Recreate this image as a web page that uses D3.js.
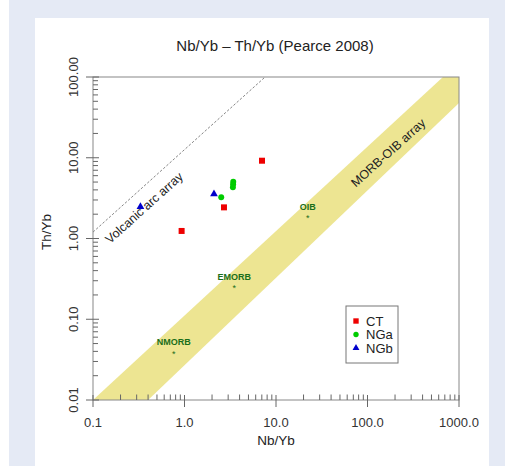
<!DOCTYPE html>
<html><head><meta charset="utf-8">
<script src="https://cdn.jsdelivr.net/npm/d3@7"></script>
<style>body{margin:0;background:#fff}svg{display:block;font-family:"Liberation Sans",Arial,sans-serif}</style>
</head><body>
<svg id="c" width="505" height="466"></svg>
<script>
// ---- data ----
const seriesNames = ["CT", "NGa", "NGb"];
const seriesColors = ["#ee0000", "#00cc00", "#0000cc"];
const seriesShapes = ["square", "circle", "triangle"];
const ctNbYb = [7.03, 2.70, 0.93];
const ctThYb = [9.19, 2.43, 1.24];
const ngaNbYb = [2.52, 3.41, 3.40, 3.38];
const ngaThYb = [3.24, 5.05, 4.69, 4.31];
const ngbNbYb = [2.10, 0.33];
const ngbThYb = [3.56, 2.48];
const refNames = ["NMORB", "EMORB", "OIB"];
const refNbYb = [0.764, 3.50, 22.2];
const refThYb = [0.0393, 0.253, 1.85];
const xTicks = [0.1, 1, 10, 100, 1000];
const xTickLabels = ["0.1", "1.0", "10.0", "100.0", "1000.0"];
const yTicks = [0.01, 0.1, 1, 10, 100];
const yTickLabels = ["0.01", "0.10", "1.00", "10.00", "100.00"];
// MORB-OIB array polygon and volcanic arc line (data units)
const bandX = [0.1, 668, 1000, 1000, 0.4];
const bandY = [0.01, 100, 100, 47.7, 0.01];
const arcX = [0.1, 7.6];
const arcY = [1.2, 100];

const svg = d3.select("#c");
// backgrounds
svg.append("rect").attr("x", 9).attr("y", 0).attr("width", 496).attr("height", 466).attr("fill", "#e5eaf5");
svg.append("rect").attr("x", 35).attr("y", 18).attr("width", 454).attr("height", 448).attr("fill", "#ffffff");

const L = 93, R = 459, T = 77, B = 400;
const x = d3.scaleLog().domain([0.1, 1000]).range([L, R]);
const y = d3.scaleLog().domain([0.01, 100]).range([B, T]);

const defs = svg.append("defs");
defs.append("clipPath").attr("id", "clip").append("rect").attr("x", L).attr("y", T).attr("width", R - L).attr("height", B - T);
const plot = svg.append("g").attr("clip-path", "url(#clip)");

// band
plot.append("path")
  .attr("d", d3.line()(bandX.map((v, i) => [x(v), y(bandY[i])])) + "Z")
  .attr("fill", "#ede592");

// volcanic arc line
plot.append("path")
  .attr("d", d3.line()(arcX.map((v, i) => [x(v), y(arcY[i])])))
  .attr("fill", "none").attr("stroke", "#777").attr("stroke-width", 0.9).attr("stroke-dasharray", "2.5,1.8");

// frame
svg.append("rect").attr("x", L).attr("y", T).attr("width", R - L).attr("height", B - T)
  .attr("fill", "none").attr("stroke", "#888").attr("stroke-width", 1);

const axisCol = "#666";
// minor ticks
const minors = (lo, hi) => { const a = []; for (let d = lo; d < hi; d *= 10) for (let k = 2; k <= 9; k++) a.push(d * k); return a; };
const gx = svg.append("g");
minors(0.1, 1000).forEach(v => gx.append("line").attr("x1", x(v)).attr("x2", x(v)).attr("y1", B).attr("y2", B - 5.5).attr("stroke", axisCol));
xTicks.forEach(v => gx.append("line").attr("x1", x(v)).attr("x2", x(v)).attr("y1", B - 5).attr("y2", B + 7).attr("stroke", axisCol));
xTicks.forEach((v, i) => gx.append("text").attr("x", x(v)).attr("y", 427).attr("text-anchor", "middle")
  .attr("font-size", 13).attr("fill", "#333").text(xTickLabels[i]));
const gy = svg.append("g");
minors(0.01, 100).forEach(v => gy.append("line").attr("y1", y(v)).attr("y2", y(v)).attr("x1", L).attr("x2", L + 5).attr("stroke", axisCol));
yTicks.forEach(v => gy.append("line").attr("y1", y(v)).attr("y2", y(v)).attr("x1", L - 7).attr("x2", L + 6).attr("stroke", axisCol));
yTicks.forEach((v, i) => gy.append("text").attr("transform", `translate(77.5,${y(v)}) rotate(-90)`).attr("text-anchor", "middle")
  .attr("font-size", 13).attr("fill", "#333").text(yTickLabels[i]));

// titles
svg.append("text").attr("x", 275).attr("y", 51).attr("text-anchor", "middle").attr("font-size", 15).attr("fill", "#222").text("Nb/Yb – Th/Yb (Pearce 2008)");
svg.append("text").attr("x", 276).attr("y", 445).attr("text-anchor", "middle").attr("font-size", 13.5).attr("fill", "#222").text("Nb/Yb");
svg.append("text").attr("transform", "translate(51,232) rotate(-90)").attr("text-anchor", "middle").attr("font-size", 13.5).attr("fill", "#222").text("Th/Yb");

// data points
const sym = { square: d3.symbolSquare, circle: d3.symbolCircle, triangle: d3.symbolTriangle };
const symSize = { square: 36, circle: 28, triangle: 26 };
const series = [[ctNbYb, ctThYb], [ngaNbYb, ngaThYb], [ngbNbYb, ngbThYb]];
series.forEach((s, si) => {
  const shp = seriesShapes[si];
  s[0].forEach((v, i) => {
    svg.append("path").attr("d", d3.symbol().type(sym[shp]).size(symSize[shp])())
      .attr("transform", `translate(${x(v)},${y(s[1][i])})`).attr("fill", seriesColors[si]);
  });
});

// array labels
svg.append("text").attr("transform", "translate(147,211) rotate(-42)").attr("text-anchor", "middle").attr("font-size", 12.5).attr("fill", "#222").text("Volcanic arc array");
svg.append("text").attr("transform", "translate(391,156) rotate(-42)").attr("text-anchor", "middle").attr("font-size", 12.5).attr("fill", "#222").text("MORB-OIB array");

// reference compositions
refNames.forEach((n, i) => {
  svg.append("text").attr("x", x(refNbYb[i])).attr("y", y(refThYb[i]) - 7).attr("text-anchor", "middle")
    .attr("font-size", 9).attr("font-weight", "bold").attr("fill", "#1a6e1a").text(n);
  svg.append("text").attr("x", x(refNbYb[i])).attr("y", y(refThYb[i]) + 4.5).attr("text-anchor", "middle")
    .attr("font-size", 9).attr("fill", "#1a6e1a").text("*");
});

// legend
const lg = svg.append("g");
lg.append("rect").attr("x", 346).attr("y", 306).attr("width", 52).attr("height", 57).attr("fill", "#fff").attr("stroke", "#777");
seriesNames.forEach((n, i) => {
  const yy = 321 + i * 13.5;
  const shp = seriesShapes[i];
  lg.append("path").attr("d", d3.symbol().type(sym[shp]).size(symSize[shp] * 0.8)())
    .attr("transform", `translate(356,${yy})`).attr("fill", seriesColors[i]);
  lg.append("text").attr("x", 366).attr("y", yy + 4.5).attr("font-size", 13).attr("fill", "#222").text(n);
});
</script>
</body></html>
